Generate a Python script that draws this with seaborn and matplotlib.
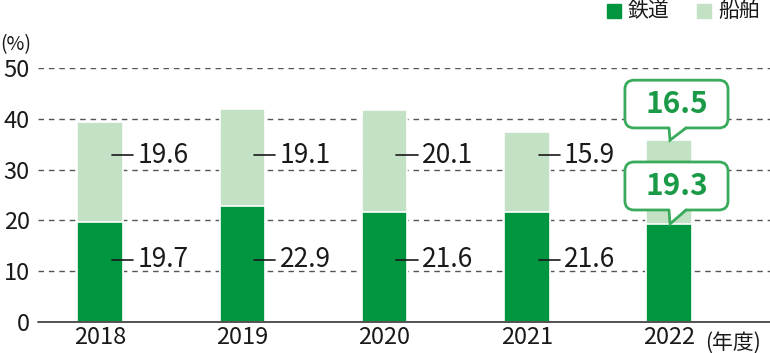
import numpy as np
import pandas as pd
import seaborn as sns
import matplotlib.pyplot as plt
from matplotlib.patches import FancyBboxPatch, Polygon

sns.set_style("white")
plt.rcParams['font.family'] = ['Noto Sans CJK JP', 'DejaVu Sans']

# データ
years = ['2018', '2019', '2020', '2021', '2022']
rail = [19.7, 22.9, 21.6, 21.6, 19.3]     # 鉄道
ship = [19.6, 19.1, 20.1, 15.9, 16.5]     # 船舶
yticks = [0, 10, 20, 30, 40, 50]

dark = '#00963f'
light = '#c2e1c5'
callout_edge = '#3aab5c'
callout_text = '#1a9a46'
ink = '#1a1a1a'

df = pd.DataFrame({'year': years, 'rail': rail, 'ship': ship})
df['total'] = df['rail'] + df['ship']

fig = plt.figure(figsize=(7.7, 3.53), dpi=100)
ax = fig.add_axes([38 / 770, 31 / 353, 732 / 770, 254 / 353])

# 積み上げ棒（合計の上に鉄道を重ねる）
sns.barplot(data=df, x='year', y='total', color=light, width=0.32,
            edgecolor='white', linewidth=1.2, saturation=1, ax=ax, zorder=2)
sns.barplot(data=df, x='year', y='rail', color=dark, width=0.32,
            edgecolor='white', linewidth=1.2, saturation=1, ax=ax, zorder=3)

ax.set_xlim(-0.436, 4.71)
ax.set_ylim(0, 50)
ax.set_yticks(yticks)
ax.set_xlabel('')
ax.set_ylabel('')
for s in ['top', 'right', 'left', 'bottom']:
    ax.spines[s].set_visible(False)
for v in yticks[1:]:
    ax.axhline(v, color='#555555', lw=1, ls=(0, (4, 3.5)), zorder=1)
ax.axhline(0, color='#444444', lw=1.3, zorder=4, clip_on=False)
ax.tick_params(axis='both', length=0, labelsize=17, colors=ink)
ax.tick_params(axis='y', pad=6)
ax.tick_params(axis='x', pad=3)

fig.text(0.0, 1 - 45 / 353, '(%)', fontsize=14, color=ink, va='center', ha='left')
ax.text(4.255, -0.08, '(年度)', transform=ax.get_xaxis_transform(),
        fontsize=15, color=ink, ha='left', va='center')

# 数値ラベル（2018〜2021）
for i in range(4):
    for val, yy in [(rail[i], 12.3), (ship[i], 32.8)]:
        ax.plot([i + 0.084, i + 0.232], [yy, yy], color=ink, lw=1.2, zorder=5)
        ax.text(i + 0.262, yy, f'{val:.1f}', fontsize=19, color=ink,
                ha='left', va='center', zorder=5)

# 2022年の吹き出し
asp = (1 / 5.08) / (1 / 142.3)
i = 4
for val, top, y0, y1 in [(ship[i], df['total'][i], 38.2, 47.6),
                         (rail[i], rail[i], 22.05, 31.5)]:
    box = FancyBboxPatch((3.69, y0), 4.415 - 3.69, y1 - y0,
                         boxstyle='round,pad=0,rounding_size=0.065',
                         mutation_aspect=asp, facecolor='white',
                         edgecolor=callout_edge, lw=2, zorder=6)
    ax.add_patch(box)
    tail = Polygon([[i + 0.0, y0 + 0.4], [i + 0.007, top], [i + 0.12, y0 + 0.4]],
                   closed=True, facecolor='white', edgecolor='none', zorder=7)
    ax.add_patch(tail)
    ax.plot([i + 0.0, i + 0.007, i + 0.12], [y0, top, y0],
            color=callout_edge, lw=2, zorder=8, solid_joinstyle='miter')
    ax.text(4.055, (y0 + y1) / 2, f'{val:.1f}', fontsize=21.5, fontweight='bold',
            color=callout_text, ha='center', va='center', zorder=9)

# 凡例
fig.patches.append(plt.Rectangle((607 / 770, 1 - 18 / 353), 14 / 770, 14 / 353,
                                 transform=fig.transFigure, color=dark))
fig.text(628 / 770, 1 - 11 / 353, '鉄道', fontsize=15, color=ink, va='center')
fig.patches.append(plt.Rectangle((697 / 770, 1 - 18 / 353), 14 / 770, 14 / 353,
                                 transform=fig.transFigure, color=light))
fig.text(718 / 770, 1 - 11 / 353, '船舶', fontsize=15, color=ink, va='center')

fig.savefig('out.png', dpi=100)
